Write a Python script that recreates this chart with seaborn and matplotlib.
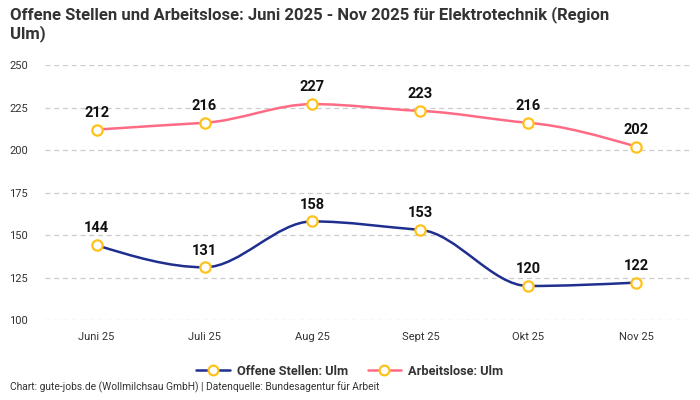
import matplotlib
matplotlib.use('Agg')

import matplotlib.pyplot as plt
import numpy as np
import pandas as pd
import seaborn as sns
from matplotlib.path import Path
from matplotlib.patches import PathPatch
from matplotlib.lines import Line2D

months = ['Juni 25', 'Juli 25', 'Aug 25', 'Sept 25', 'Okt 25', 'Nov 25']
offene_stellen = [144, 131, 158, 153, 120, 122]
arbeitslose = [212, 216, 227, 223, 216, 202]
y_ticks = [100, 125, 150, 175, 200, 225, 250]

BLUE = '#1f2f8f'
PINK = '#ff6b84'
GOLD = '#ffc21a'
TEXT = '#333333'


def monotone_path(x, y):
    # monotone cubic (like d3 curveMonotoneX) as bezier path
    x = np.asarray(x, float)
    y = np.asarray(y, float)
    n = len(x)
    h = np.diff(x)
    s = np.diff(y) / h
    t = np.zeros(n)
    for i in range(1, n - 1):
        if s[i - 1] * s[i] <= 0:
            t[i] = 0
        else:
            p = (s[i - 1] * h[i] + s[i] * h[i - 1]) / (h[i - 1] + h[i])
            t[i] = np.sign(s[i - 1]) * min(abs(s[i - 1]), abs(s[i]), 0.5 * abs(p))
    t[0] = (3 * s[0] - t[1]) / 2 if n > 2 else s[0]
    t[-1] = (3 * s[-1] - t[-2]) / 2 if n > 2 else s[-1]
    verts = [(x[0], y[0])]
    codes = [Path.MOVETO]
    for i in range(n - 1):
        dx = h[i] / 3
        verts += [(x[i] + dx, y[i] + dx * t[i]),
                  (x[i + 1] - dx, y[i + 1] - dx * t[i + 1]),
                  (x[i + 1], y[i + 1])]
        codes += [Path.CURVE4] * 3
    return Path(verts, codes)


sns.set_theme(style='white')
plt.rcParams['font.family'] = ['Roboto', 'DejaVu Sans']

df = pd.DataFrame({
    'Monat': months * 2,
    'Wert': offene_stellen + arbeitslose,
    'Serie': ['Offene Stellen: Ulm'] * 6 + ['Arbeitslose: Ulm'] * 6,
})
df['pos'] = list(range(len(months))) * 2

fig = plt.figure(figsize=(7, 4), dpi=100, facecolor='white')
ax = fig.add_axes([0.064, 0.2, 0.922, 0.6375])

for yt in y_ticks:
    ax.axhline(yt, color='#cccccc', lw=0.9, ls=(0, (4, 3)), zorder=0)

colors = {'Offene Stellen: Ulm': BLUE, 'Arbeitslose: Ulm': PINK}
for name, sub in df.groupby('Serie', sort=False):
    path = monotone_path(sub['pos'], sub['Wert'])
    ax.add_patch(PathPatch(path, facecolor='none', edgecolor=colors[name],
                           lw=1.8, zorder=2, clip_on=False))
    for xp, v in zip(sub['pos'], sub['Wert']):
        ax.annotate(str(v), (xp, v), xytext=(0, 7), textcoords='offset points',
                    ha='center', va='bottom', fontsize=10.5, fontweight='bold',
                    color='#111111')

sns.scatterplot(data=df, x='pos', y='Wert', ax=ax, color='white',
                edgecolor=GOLD, linewidth=1.6, s=55, zorder=3,
                clip_on=False, legend=False)

ax.set_xlim(-0.48, 5.5)
ax.set_ylim(100, 250)
ax.set_xticks(range(len(months)))
ax.set_xticklabels(months, fontsize=8, color=TEXT)
ax.set_yticks(y_ticks)
ax.set_yticklabels([str(v) for v in y_ticks], fontsize=8, color=TEXT)
ax.tick_params(axis='x', length=0, pad=9)
ax.tick_params(axis='y', length=0, pad=12)
ax.set_xlabel('')
ax.set_ylabel('')
for sp in ax.spines.values():
    sp.set_visible(False)

fig.text(0.014, 0.985, 'Offene Stellen und Arbeitslose: Juni 2025 - Nov 2025 für Elektrotechnik (Region\nUlm)',
         ha='left', va='top', fontsize=12, fontweight='bold', color=TEXT,
         linespacing=1.15)

handles = [
    Line2D([0], [0], color=BLUE, lw=1.8, marker='o', markersize=7,
           markerfacecolor='white', markeredgecolor=GOLD, markeredgewidth=1.6),
    Line2D([0], [0], color=PINK, lw=1.8, marker='o', markersize=7,
           markerfacecolor='white', markeredgecolor=GOLD, markeredgewidth=1.6),
]
leg = fig.legend(handles, ['Offene Stellen: Ulm', 'Arbeitslose: Ulm'],
                 loc='center', bbox_to_anchor=(0.5, 0.072), ncol=2,
                 frameon=False, handlelength=2.6, columnspacing=1.5,
                 handletextpad=0.6, prop={'size': 9.2, 'weight': 'bold'})
for t in leg.get_texts():
    t.set_color(TEXT)

fig.text(0.014, 0.018, 'Chart: gute-jobs.de (Wollmilchsau GmbH) | Datenquelle: Bundesagentur für Arbeit',
         ha='left', va='bottom', fontsize=7.4, color=TEXT)

fig.savefig('out.png', dpi=100, facecolor='white')
